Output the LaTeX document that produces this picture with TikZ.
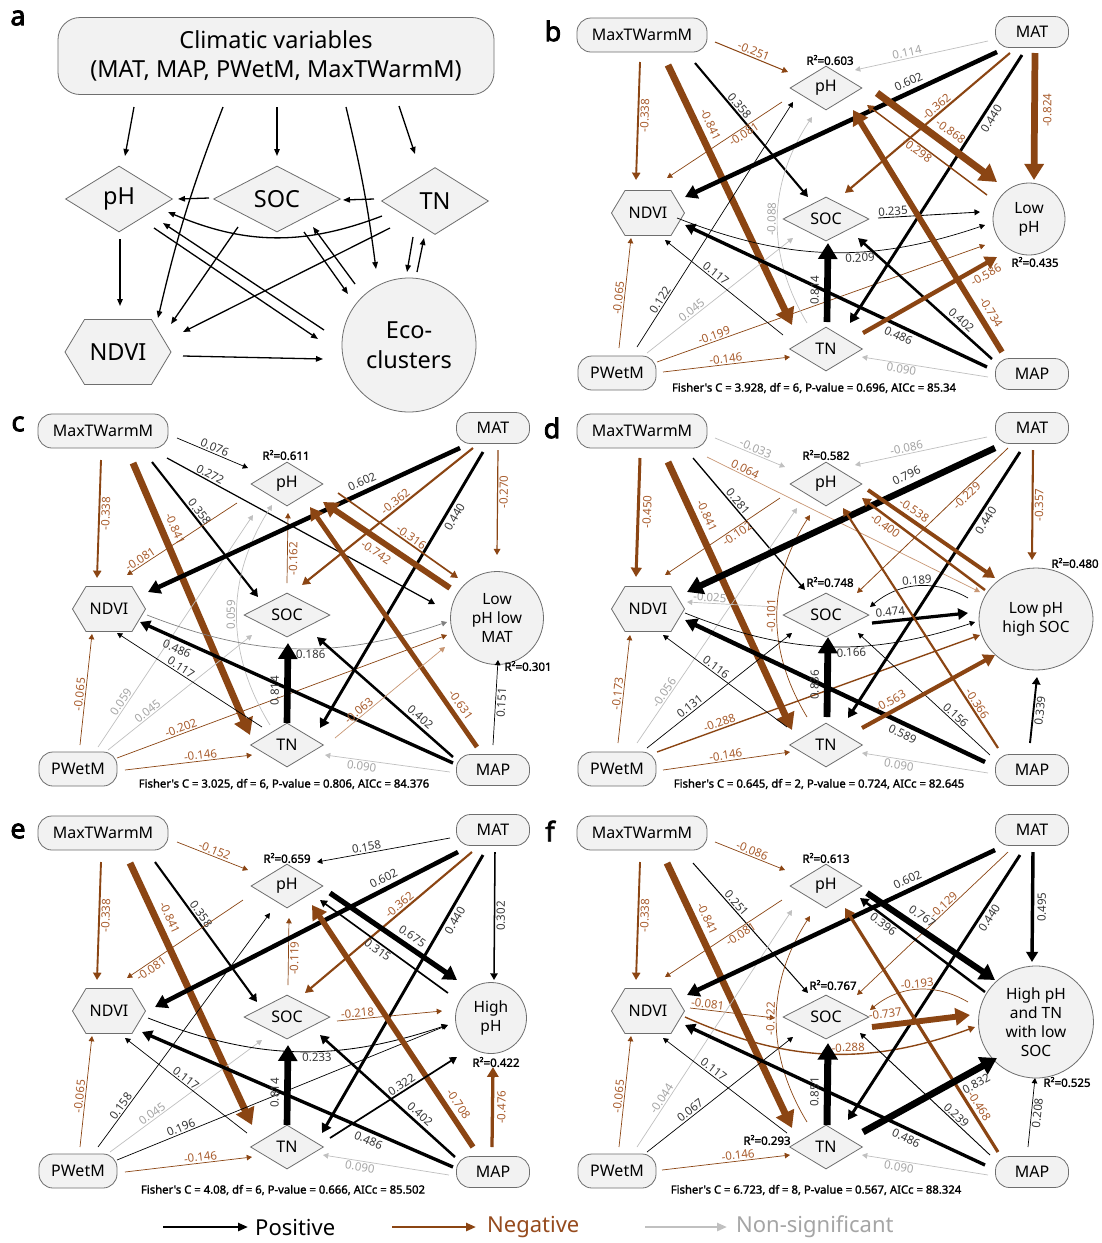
\documentclass[tikz,border=0pt]{standalone}
\usepackage{fontspec}
\setmainfont{Noto Sans}
\newfontfamily\bfa[FakeBold=1.6]{Noto Sans}
\newfontfamily\bfb[FakeBold=3]{Noto Sans}
\usetikzlibrary{arrows.meta,shapes.geometric,shapes.symbols,calc}
\definecolor{brn}{RGB}{139,69,19}
\definecolor{lbr}{RGB}{168,92,45}
\definecolor{gry}{RGB}{192,192,192}
\definecolor{lgr}{RGB}{165,165,165}
\definecolor{lbk}{RGB}{55,55,55}
\definecolor{nfill}{RGB}{242,242,242}
\definecolor{nbord}{RGB}{110,110,110}
\definecolor{brl}{RGB}{200,150,115}
\definecolor{legbr}{RGB}{150,75,30}
\tikzset{
 lw/.style={line width={max(0.7,10*#1-1.5)*1pt}},
 arr/.style={-{Triangle[length=4pt 1.8,width=4pt 2.2]}},
 Pe/.style={draw=black,lw=#1,arr},
 Ne/.style={draw=brn,lw=#1,arr},
 Ns/.style={draw=gry,lw=#1,arr},
 Nl/.style={draw=brl,lw=#1,arr},
 Pm/.style={draw=black!50,lw=#1,arr},
 lb/.style={sloped,inner sep=1.3pt,font=\fontsize{11.5}{11.5}\selectfont},
 lP/.style={lb,text=lbk},
 lN/.style={lb,text=lbr},
 lS/.style={lb,text=lgr},
 nd/.style={draw=nbord,fill=nfill,line width=0.8pt,inner sep=0pt,font=\fontsize{16}{16}\selectfont},
 rbox/.style={nd,rectangle,rounded corners=14pt},
 dia/.style={nd,diamond},
 hexa/.style={nd,signal,signal to=east and west,signal pointer angle=118},
 circ/.style={nd,circle,align=center,font=\fontsize{15.5}{19}\selectfont},
 ell/.style={nd,ellipse,align=center,font=\fontsize{15.5}{19}\selectfont},
 r2/.style={font=\bfa\fontsize{11.5}{11.5}\selectfont,inner sep=0pt},
 fish/.style={font=\bfa\fontsize{11.3}{11.3}\selectfont,inner sep=0pt},
 plab/.style={font=\bfb\fontsize{27}{27}\selectfont,inner sep=0pt},
 aA/.style={draw=black,line width=1.3pt,-{Triangle[length=7pt,width=5.5pt]}},
 lgA/.style={line width=2.4pt,-{Triangle[length=10pt,width=8pt]}},
 lgT/.style={anchor=west,inner sep=0pt,font=\fontsize{22}{22}\selectfont},
}
\newcommand\Ed[7]{\draw[#1] ($(#2)+(#3)$) -- node[#6]{#7} ($(#4)+(#5)$);}
\newcommand\Cd[8]{\draw[#1] ($(#2)+(#3)$) to[#8] node[#6]{#7} ($(#4)+(#5)$);}
\newcommand\Nodes[1]{%
 \node[rbox,minimum width=130,minimum height=34] (#1MX) at ({\ox+103},{\oy+35}) {MaxTWarmM};
 \node[rbox,minimum width=73,minimum height=31] (#1MT) at ({\ox+493},{\oy+32}) {MAT};
 \node[rbox,minimum width=78,minimum height=34] (#1PW) at ({\ox+78},{\oy+373}) {PWetM};
 \node[rbox,minimum width=73,minimum height=31] (#1MP) at ({\ox+493},{\oy+374}) {MAP};
 \node[dia,minimum width=72,minimum height=44] (#1PH) at ({\ox+287},{\oy+88}) {pH};
 \node[dia,minimum width=86,minimum height=44] (#1SO) at ({\ox+287},{\oy+219}) {SOC};
 \node[dia,minimum width=73,minimum height=44] (#1TN) at ({\ox+287},{\oy+349}) {TN};
 \node[hexa,minimum width=73,minimum height=45] (#1ND) at ({\ox+109},{\oy+213}) {NDVI};
}
\begin{document}
\begin{tikzpicture}[x=1pt,y=-1pt]
\fill[white] (0,0) rectangle (1102,1243);
\useasboundingbox (0,0) rectangle (1102,1243);

% ---------------- panel a
\node[plab] (la) at (18,18) {a};
\node[rbox,minimum width=436,minimum height=77,rounded corners=22pt,align=center,font=\fontsize{23.5}{29}\selectfont] (aBox) at (276,56) {Climatic variables\\(MAT, MAP, PWetM, MaxTWarmM)};
\node[dia,minimum width=107,minimum height=66,font=\fontsize{23.5}{23.5}\selectfont] (aPH) at (119,199) {pH};
\node[dia,minimum width=127,minimum height=66,font=\fontsize{23.5}{23.5}\selectfont] (aSO) at (277,199) {SOC};
\node[dia,minimum width=107,minimum height=67,font=\fontsize{23.5}{23.5}\selectfont] (aTN) at (435,201) {TN};
\node[hexa,minimum width=106,minimum height=65,font=\fontsize{23.5}{23.5}\selectfont] (aND) at (118,352) {NDVI};
\node[circ,minimum size=134,font=\fontsize{23.5}{30}\selectfont] (aEC) at (409,345) {Eco-\\clusters};
\draw[aA] ($(aBox)+(-142,51)$) -- ($(aPH)+(6,-43)$);
\draw[aA] ($(aBox)+(-53,51)$) to[bend right=4] ($(aND)+(40,-34)$);
\draw[aA] ($(aBox)+(1,51)$) -- ($(aSO)+(0,-43)$);
\draw[aA] ($(aBox)+(70,51)$) to[bend left=3] ($(aEC)+(-33,-76)$);
\draw[aA] ($(aBox)+(123,50)$) -- ($(aTN)+(-20,-47)$);
\draw[aA] ($(aSO)+(-68,-1)$) -- ($(aPH)+(59,0)$);
\draw[aA] ($(aTN)+(-61,-2)$) -- ($(aSO)+(66,1)$);
\draw[aA] ($(aTN)+(-53,15)$) to[bend left=22] ($(aPH)+(49,13)$);
\draw[aA] ($(aPH)+(35,29)$) -- ($(aEC)+(-91,-6)$);
\draw[aA] ($(aEC)+(-85,-15)$) -- ($(aPH)+(44,24)$);
\draw[aA] ($(aSO)+(-39,28)$) -- ($(aND)+(53,-28)$);
\draw[aA] ($(aTN)+(-45,27)$) -- ($(aND)+(65,-20)$);
\draw[aA] ($(aSO)+(27,33)$) -- ($(aEC)+(-61,-51)$);
\draw[aA] ($(aEC)+(-54,-61)$) -- ($(aSO)+(36,28)$);
\draw[aA] ($(aTN)+(-22,36)$) -- ($(aEC)+(-2,-73)$);
\draw[aA] ($(aEC)+(8,-73)$) -- ($(aTN)+(-11,37)$);
\draw[aA] ($(aPH)+(1,40)$) -- ($(aND)+(2,-46)$);
\draw[aA] ($(aND)+(65,4)$) -- ($(aEC)+(-86,14)$);

% ---------------- panel b
\def\ox{539}\def\oy{0}
\node[plab] (lbb) at (553,31) {b};
\Nodes{b}
\node[circ,minimum size=72] (bC) at ({\ox+490},{\oy+219}) {Low\\pH};
\node[r2] (bR1) at ({\ox+291},{\oy+60}) {R²=0.603};
\node[r2] (bR2) at ({\ox+496},{\oy+262}) {R²=0.435};
\node[fish] (bF) at ({\ox+275},{\oy+388}) {Fisher's C = 3.928, df = 6, P-value = 0.696, AICc = 85.34};
\Ed{Ne=0.338}{bMX}{-2,27}{bND}{-12,-33}{lN,pos=.45,below}{-0.338}
\Ed{Ne=0.841}{bMX}{26,30}{bTN}{-34,-24}{lN,pos=.25,above=3.8pt}{-0.841}
\Ed{Pe=0.358}{bMX}{53,28}{bSO}{-18,-22}{lP,pos=.35,above}{0.358}
\Ed{Ne=0.251}{bMX}{73,7}{bPH}{-38,-16}{lN,pos=.5,above}{-0.251}
\Ed{Ne=0.081}{bPH}{-44,14}{bND}{19,-35}{lN,pos=.36,below}{-0.081}
\Ed{Ne=0.065}{bPW}{2,-25}{bND}{-17,25}{lN,pos=.45,above}{-0.065}
\Ed{Pe=0.122}{bPW}{20,-26}{bPH}{-33,14}{lP,pos=.18,above}{0.122}
\Ed{Ns=0.045}{bPW}{30,-20}{bSO}{-33,19}{lS,pos=.33,above}{0.045}
\Ed{Ne=0.146}{bPW}{46,-1}{bTN}{-36,8}{lN,pos=.5,above}{-0.146}
\Ed{Ne=0.199}{bPW}{40,-11}{bC}{-44,26}{lN,pos=.18,above}{-0.199}
\Ed{Pe=0.117}{bTN}{-43,-14}{bND}{17,27}{lP,pos=.6,above}{0.117}
\Cd{Ns=0.088}{bTN}{-19,-26}{bPH}{-14,29}{lS,pos=.5,above}{-0.088}{bend left=32}
\Cd{Pe=0.209}{bND}{29,5}{bC}{-44,6}{lP,pos=.6,below}{0.209}{bend right=20}
\Ed{Pe=0.486}{bMP}{-45,-7}{bND}{37,12}{lP,pos=.28,below=2pt}{0.486}
\Ed{Pe=0.814}{bTN}{1,-27}{bSO}{2,24}{lP,pos=.4,above=3.8pt}{0.814}
\Ed{Pe=0.602}{bMT}{-35,20}{bND}{37,-16}{lP,pos=.27,above=2.5pt}{0.602}
\Ed{Ns=0.114}{bMT}{-44,9}{bPH}{29,-18}{lS,pos=.6,above}{0.114}
\Ed{Ne=0.362}{bMT}{-22,21}{bSO}{19,-26}{lN,pos=.42,above}{-0.362}
\Ed{Pe=0.440}{bMT}{-10,23}{bTN}{24,-26}{lP,pos=.22,below=1.5pt}{0.440}
\Ed{Ne=0.824}{bMT}{3,21}{bC}{5,-39}{lN,pos=.45,below=3.8pt}{-0.824}
\Ed{Ne=0.868}{bPH}{51,5}{bC}{-32,-37}{lN,pos=.55,above=3.8pt}{-0.868}
\Ed{Ne=0.298}{bC}{-42,-24}{bPH}{41,17}{lN,pos=.55,below}{-0.298}
\Ed{Pe=0.235}{bSO}{52,-1}{bC}{-49,-7}{lP,pos=.15,above}{0.235}
\Ed{Pe=0.402}{bMP}{-40,-15}{bSO}{32,19}{lP,pos=.27,above=1.5pt}{0.402}
\Ed{Ne=0.586}{bTN}{37,-16}{bC}{-32,38}{lN,pos=.88,below=2.5pt}{-0.586}
\Ed{Ns=0.090}{bMP}{-44,3}{bTN}{36,8}{lS,pos=.68,below}{0.090}
\Ed{Ne=0.734}{bMP}{-30,-22}{bPH}{27,22}{lN,pos=.14,above=3.2pt}{-0.734}

% ---------------- panel c
\def\ox{0}\def\oy{396}
\node[plab] (lc) at (18,424) {c};
\Nodes{c}
\node[circ,minimum size=93] (cC) at ({\ox+497},{\oy+222}) {Low\\pH low\\MAT};
\node[r2] (cR1) at ({\ox+286},{\oy+59}) {R²=0.611};
\node[r2] (cR2) at ({\ox+528},{\oy+270}) {R²=0.301};
\node[fish] (cF) at ({\ox+284},{\oy+388}) {Fisher's C = 3.025, df = 6, P-value = 0.806, AICc = 84.376};
\Ed{Pe=0.076}{cMX}{74,7}{cPH}{-39,-16}{lP,pos=.5,above}{0.076}
\Ed{Pe=0.272}{cMX}{64,27}{cC}{-62,-14}{lP,pos=.15,above}{0.272}
\Ed{Pe=0.358}{cMX}{49,31}{cSO}{-29,-18}{lP,pos=.4,above}{0.358}
\Ed{Ne=0.841}{cMX}{30,32}{cTN}{-37,-10}{lN,pos=.26,above=3.8pt}{-0.841}
\Ed{Ne=0.338}{cMX}{-2,29}{cND}{-12,-31}{lN,pos=.45,below}{-0.338}
\Ed{Ne=0.081}{cPH}{-50,19}{cND}{18,-34}{lN,pos=.85,above}{-0.081}
\Ed{Ne=0.065}{cPW}{2,-24}{cND}{-17,25}{lN,pos=.45,above}{-0.065}
\Ed{Ns=0.059}{cPW}{20,-22}{cPH}{-34,31}{lS,pos=.18,above}{0.059}
\Ed{Ns=0.045}{cPW}{30,-19}{cSO}{-35,20}{lS,pos=.3,above}{0.045}
\Ed{Ne=0.202}{cPW}{39,-11}{cC}{-50,17}{lN,pos=.2,above}{-0.202}
\Ed{Ne=0.146}{cPW}{47,1}{cTN}{-35,10}{lN,pos=.6,above}{-0.146}
\Ed{Pe=0.117}{cTN}{-25,-18}{cND}{8,24}{lP,pos=.58,above}{0.117}
\Cd{Ns=0.059}{cTN}{-17,-20}{cPH}{-15,21}{lS,pos=.5,above}{0.059}{bend left=32}
\Cd{Pm=0.186}{cND}{38,6}{cC}{-50,4}{lP,pos=.55,below}{0.186}{bend right=20}
\Ed{Pe=0.486}{cMP}{-40,-7}{cND}{31,13}{lP,pos=.87,below=2pt}{0.486}
\Ed{Pe=0.814}{cTN}{0,-22}{cSO}{1,28}{lP,pos=.4,above=3.8pt}{0.814}
\Ed{Ne=0.162}{cSO}{0,-32}{cPH}{1,29}{lN,pos=.35,below}{-0.162}
\Ed{Pe=0.602}{cMT}{-33,20}{cND}{39,-17}{lP,pos=.3,above=2.5pt}{0.602}
\Ed{Ne=0.362}{cMT}{-20,20}{cSO}{15,-30}{lN,pos=.43,above}{-0.362}
\Ed{Pe=0.440}{cMT}{-10,24}{cTN}{33,-17}{lP,pos=.22,below=1.5pt}{0.440}
\Ed{Ne=0.270}{cMT}{5,22}{cC}{0,-63}{lN,pos=.4,below}{-0.270}
\Ed{Ne=0.316}{cPH}{51,9}{cC}{-39,-40}{lN,pos=.58,above}{-0.316}
\Ed{Ne=0.742}{cC}{-47,-30}{cPH}{36,18}{lN,pos=.53,below=3.2pt}{-0.742}
\Ed{Ne=0.631}{cMP}{-16,-23}{cPH}{23,23}{lN,pos=.15,above=2.8pt}{-0.631}
\Ed{Pe=0.402}{cMP}{-40,-13}{cSO}{30,22}{lP,pos=.28,above=1.5pt}{0.402}
\Ed{Nl=0.063}{cTN}{48,-7}{cC}{-52,29}{lN,pos=.25,above}{-0.063}
\Ed{Ns=0.090}{cMP}{-43,2}{cTN}{38,10}{lS,pos=.7,below}{0.090}
\Ed{Pe=0.151}{cMP}{0,-25}{cC}{1,42}{lP,pos=.5,below}{0.151}

% ---------------- panel d
\def\ox{539}\def\oy{396}
\node[plab] (ld) at (552,428) {d};
\Nodes{d}
\node[ell,minimum width=114,minimum height=102] (dC) at ({\ox+497},{\oy+223}) {Low pH\\high SOC};
\node[r2] (dR1) at ({\ox+287},{\oy+59}) {R²=0.582};
\node[r2] (dR2) at ({\ox+291},{\oy+186}) {R²=0.748};
\node[r2] (dR3) at ({\ox+536},{\oy+167}) {R²=0.480};
\node[fish] (dF) at ({\ox+280},{\oy+388}) {Fisher's C = 0.645, df = 2, P-value = 0.724, AICc = 82.645};
\Ed{Ns=0.033}{dMX}{73,7}{dPH}{-41,-17}{lS,pos=.55,above}{-0.033}
\Ed{Nl=0.064}{dMX}{65,26}{dC}{-56,-27}{lN,pos=.13,above}{0.064}
\Ed{Pe=0.281}{dMX}{51,27}{dSO}{-21,-25}{lP,pos=.36,above}{0.281}
\Ed{Ne=0.841}{dMX}{26,31}{dTN}{-34,-15}{lN,pos=.22,above=3.8pt}{-0.841}
\Ed{Ne=0.450}{dMX}{-2,27}{dND}{-12,-32}{lN,pos=.45,below=1.8pt}{-0.450}
\Ed{Ne=0.102}{dPH}{-46,14}{dND}{17,-34}{lN,pos=.4,below}{-0.102}
\Ed{Ns=0.025}{dSO}{-49,-8}{dND}{39,-7}{lS,pos=.75,above}{-0.025}
\Ed{Ne=0.173}{dPW}{1,-26}{dND}{-18,26}{lN,pos=.45,above}{-0.173}
\Ed{Ns=0.056}{dPW}{20,-26}{dPH}{-29,24}{lS,pos=.2,above}{-0.056}
\Ed{Pe=0.131}{dPW}{30,-21}{dSO}{-34,18}{lP,pos=.32,above}{0.131}
\Ed{Ne=0.288}{dPW}{40,-17}{dC}{-56,16}{lN,pos=.2,above}{-0.288}
\Ed{Ne=0.146}{dPW}{46,1}{dTN}{-36,7}{lN,pos=.5,above}{-0.146}
\Ed{Pe=0.116}{dTN}{-39,-18}{dND}{15,26}{lP,pos=.6,above}{0.116}
\Cd{Ne=0.101}{dTN}{-19,-28}{dPH}{-16,31}{lN,pos=.5,above}{-0.101}{bend left=32}
\Cd{Pe=0.166}{dND}{37,4}{dC}{-61,3}{lP,pos=.58,below}{0.166}{bend right=20}
\Ed{Pe=0.589}{dMP}{-47,-8}{dND}{37,11}{lP,pos=.26,below=2.5pt}{0.589}
\Ed{Pe=0.836}{dTN}{1,-28}{dSO}{2,22}{lP,pos=.4,above=3.8pt}{0.836}
\Ed{Pe=0.796}{dMT}{-37,20}{dND}{39,-17}{lP,pos=.27,above=3.8pt}{0.796}
\Ed{Ns=0.086}{dMT}{-45,9}{dPH}{29,-19}{lS,pos=.6,above}{-0.086}
\Ed{Ne=0.229}{dMT}{-24,20}{dSO}{31,-22}{lN,pos=.3,below}{-0.229}
\Ed{Pe=0.440}{dMT}{-12,24}{dTN}{22,-27}{lP,pos=.24,below=1.5pt}{0.440}
\Ed{Ne=0.357}{dMT}{1,22}{dC}{-4,-59}{lN,pos=.5,below}{-0.357}
\Ed{Ne=0.538}{dPH}{42,6}{dC}{-41,-41}{lN,pos=.32,above=2.2pt}{-0.538}
\Ed{Ne=0.400}{dC}{-51,-29}{dPH}{36,14}{lN,pos=.77,below=1.3pt}{-0.400}
\Ed{Pe=0.474}{dSO}{46,8}{dC}{-68,-6}{lP,pos=.2,above=2pt}{0.474}
\Cd{Pe=0.189}{dC}{-68,-21}{dSO}{44,-8}{lP,pos=.5,above}{0.189}{bend right=35}
\Ed{Pe=0.156}{dMP}{-42,-15}{dSO}{32,18}{lP,pos=.29,above}{0.156}
\Ed{Ne=0.563}{dTN}{36,-17}{dC}{-41,36}{lN,pos=.25,above=2.2pt}{-0.563}
\Ed{Ne=0.366}{dMP}{-34,-22}{dPH}{17,24}{lN,pos=.17,above}{-0.366}
\Ed{Ns=0.090}{dMP}{-44,3}{dTN}{36,8}{lS,pos=.7,below}{0.090}
\Ed{Pe=0.339}{dMP}{-2,-27}{dC}{1,58}{lP,pos=.5,below}{0.339}

% ---------------- panel e
\def\ox{0}\def\oy{798}
\node[plab] (le) at (18,831) {e};
\Nodes{e}
\node[circ,minimum size=71] (eC) at ({\ox+491},{\oy+220}) {High\\pH};
\node[r2] (eR1) at ({\ox+287},{\oy+60}) {R²=0.659};
\node[r2] (eR2) at ({\ox+496},{\oy+264}) {R²=0.422};
\node[fish] (eF) at ({\ox+283},{\oy+392}) {Fisher's C = 4.08, df = 6, P-value = 0.666, AICc = 85.502};
\Ed{Ne=0.152}{eMX}{74,9}{ePH}{-39,-16}{lN,pos=.5,above}{-0.152}
\Ed{Pe=0.358}{eMX}{52,29}{eSO}{-30,-15}{lP,pos=.4,above}{0.358}
\Ed{Ne=0.841}{eMX}{27,30}{eTN}{-35,-22}{lN,pos=.23,above=3.8pt}{-0.841}
\Ed{Ne=0.338}{eMX}{-2,29}{eND}{-12,-31}{lN,pos=.45,below}{-0.338}
\Ed{Ne=0.081}{ePH}{-44,14}{eND}{18,-33}{lN,pos=.82,below}{-0.081}
\Ed{Ne=0.065}{ePW}{2,-24}{eND}{-17,25}{lN,pos=.45,above}{-0.065}
\Ed{Pe=0.158}{ePW}{20,-24}{ePH}{-17,27}{lP,pos=.16,above}{0.158}
\Ed{Ns=0.045}{ePW}{32,-19}{eSO}{-25,23}{lS,pos=.3,above}{0.045}
\Ed{Pe=0.196}{ePW}{39,-11}{eC}{-43,7}{lP,pos=.2,above}{0.196}
\Ed{Ne=0.146}{ePW}{47,1}{eTN}{-35,10}{lN,pos=.6,above}{-0.146}
\Ed{Pe=0.117}{eTN}{-40,-14}{eND}{16,27}{lP,pos=.53,above}{0.117}
\Cd{Pe=0.233}{eND}{39,7}{eC}{-44,7}{lP,pos=.57,below}{0.233}{bend right=20}
\Ed{Pe=0.486}{eMP}{-40,-5}{eND}{33,21}{lP,pos=.26,below=2pt}{0.486}
\Ed{Pe=0.814}{eTN}{0,-22}{eSO}{1,28}{lP,pos=.4,above=3.8pt}{0.814}
\Ed{Ne=0.119}{eSO}{1,-32}{ePH}{2,32}{lN,pos=.4,below}{-0.119}
\Ed{Pe=0.602}{eMT}{-35,22}{eND}{46,-4}{lP,pos=.23,above=2.5pt}{0.602}
\Ed{Pe=0.158}{eMT}{-43,8}{ePH}{30,-24}{lP,pos=.62,above}{0.158}
\Ed{Ne=0.362}{eMT}{-21,22}{eSO}{18,-24}{lN,pos=.41,above}{-0.362}
\Ed{Pe=0.440}{eMT}{-10,25}{eTN}{35,-14}{lP,pos=.22,below=1.5pt}{0.440}
\Ed{Pe=0.302}{eMT}{2,22}{eC}{3,-38}{lP,pos=.5,below}{0.302}
\Ed{Pe=0.675}{ePH}{43,7}{eC}{-34,-38}{lP,pos=.6,above=2.8pt}{0.675}
\Ed{Pe=0.315}{eC}{-43,-25}{ePH}{33,14}{lP,pos=.52,below}{0.315}
\Ed{Ne=0.218}{eSO}{50,4}{eC}{-49,-7}{lN,pos=.2,above}{-0.218}
\Ed{Ne=0.708}{eMP}{-20,-25}{ePH}{25,19}{lN,pos=.15,above=3.2pt}{-0.708}
\Ed{Pe=0.402}{eMP}{-38,-15}{eSO}{33,18}{lP,pos=.3,above=1.5pt}{0.402}
\Ed{Pe=0.322}{eTN}{43,-9}{eC}{-34,39}{lP,pos=.59,above}{0.322}
\Ed{Ns=0.090}{eMP}{-44,3}{eTN}{36,8}{lS,pos=.7,below}{0.090}
\Ed{Ne=0.476}{eMP}{-1,-25}{eC}{2,49}{lN,pos=.5,below=1.8pt}{-0.476}

% ---------------- panel f
\def\ox{539}\def\oy{798}
\node[plab] (lf) at (550,831) {f};
\Nodes{f}
\node[ell,minimum width=115,minimum height=112] (fC) at ({\ox+497},{\oy+224}) {High pH\\and TN\\with low\\SOC};
\node[r2] (fR1) at ({\ox+287},{\oy+60}) {R²=0.613};
\node[r2] (fR2) at ({\ox+294},{\oy+187}) {R²=0.767};
\node[r2] (fR3) at ({\ox+228},{\oy+342}) {R²=0.293};
\node[r2] (fR4) at ({\ox+528},{\oy+284}) {R²=0.525};
\node[fish] (fF) at ({\ox+277},{\oy+392}) {Fisher's C = 6.723, df = 8, P-value = 0.567, AICc = 88.324};
\Ed{Ne=0.086}{fMX}{73,9}{fPH}{-41,-16}{lN,pos=.5,above}{-0.086}
\Ed{Pe=0.251}{fMX}{51,30}{fSO}{-18,-24}{lP,pos=.34,above}{0.251}
\Ed{Ne=0.841}{fMX}{25,30}{fTN}{-34,-19}{lN,pos=.23,above=3.8pt}{-0.841}
\Ed{Ne=0.338}{fMX}{-2,29}{fND}{-12,-31}{lN,pos=.45,below}{-0.338}
\Ed{Ne=0.081}{fPH}{-44,14}{fND}{17,-34}{lN,pos=.38,below}{-0.081}
\Ed{Ne=0.081}{fND}{42,-3}{fSO}{-51,1}{lN,pos=.2,above}{-0.081}
\Cd{Ne=0.288}{fND}{37,6}{fC}{-61,5}{lN,pos=.57,above}{-0.288}{bend right=22}
\Ed{Ne=0.065}{fPW}{2,-24}{fND}{-17,25}{lN,pos=.45,above}{-0.065}
\Ed{Ns=0.044}{fPW}{20,-24}{fPH}{-34,24}{lS,pos=.19,above}{-0.044}
\Ed{Pe=0.067}{fPW}{30,-19}{fSO}{-33,20}{lP,pos=.32,above}{0.067}
\Ed{Ne=0.146}{fPW}{45,-1}{fTN}{-36,8}{lN,pos=.6,above}{-0.146}
\Ed{Pe=0.117}{fTN}{-39,-14}{fND}{15,27}{lP,pos=.62,above}{0.117}
\Cd{Ne=0.122}{fTN}{-19,-25}{fPH}{-16,30}{lN,pos=.5,above}{-0.122}{bend left=32}
\Ed{Pe=0.486}{fMP}{-47,-7}{fND}{37,14}{lP,pos=.25,below=2pt}{0.486}
\Ed{Pe=0.851}{fTN}{1,-22}{fSO}{2,26}{lP,pos=.4,above=3.8pt}{0.851}
\Ed{Pe=0.602}{fMT}{-37,20}{fND}{39,-16}{lP,pos=.27,above=2.5pt}{0.602}
\Ed{Ne=0.129}{fMT}{-24,22}{fSO}{31,-22}{lN,pos=.4,above}{-0.129}
\Ed{Pe=0.440}{fMT}{-12,25}{fTN}{22,-27}{lP,pos=.22,below=1.5pt}{0.440}
\Ed{Pe=0.495}{fMT}{1,22}{fC}{-4,-60}{lP,pos=.5,below=2pt}{0.495}
\Ed{Pe=0.767}{fPH}{41,7}{fC}{-41,-42}{lP,pos=.38,above=3.2pt}{0.767}
\Ed{Pe=0.396}{fC}{-51,-30}{fPH}{34,12}{lP,pos=.78,below}{0.396}
\Cd{Ne=0.193}{fC}{-68,-20}{fSO}{44,-7}{lN,pos=.5,above}{-0.193}{bend right=35}
\Ed{Ne=0.737}{fSO}{46,10}{fC}{-66,-7}{lN,pos=.15,above=3.2pt}{-0.737}
\Ed{Pe=0.239}{fMP}{-42,-17}{fSO}{34,16}{lP,pos=.29,above}{0.239}
\Ed{Ne=0.468}{fMP}{-34,-20}{fPH}{19,22}{lN,pos=.17,above=1.6pt}{-0.468}
\Ed{Pe=0.832}{fTN}{37,-15}{fC}{-39,36}{lP,pos=.8,below=3.8pt}{0.832}
\Ed{Ns=0.090}{fMP}{-44,3}{fTN}{36,8}{lS,pos=.7,below}{0.090}
\Ed{Pe=0.208}{fMP}{-4,-25}{fC}{-1,56}{lP,pos=.5,below}{0.208}

% ---------------- legend
\coordinate (lg1s) at (163,1227); \coordinate (lg1e) at (248,1227);
\coordinate (lg2s) at (392,1227); \coordinate (lg2e) at (476,1227);
\coordinate (lg3s) at (645,1227); \coordinate (lg3e) at (727,1227);
\draw[lgA,draw=black] (lg1s) -- (lg1e);
\draw[lgA,draw=brn] (lg2s) -- (lg2e);
\draw[lgA,draw=gry] (lg3s) -- (lg3e);
\node[lgT,text=black] (lg1) at (255,1227) {Positive};
\node[lgT,text=legbr] (lg2) at (487,1227) {Negative};
\node[lgT,text=lgr] (lg3) at (736,1227) {Non-significant};
\end{tikzpicture}
\end{document}
